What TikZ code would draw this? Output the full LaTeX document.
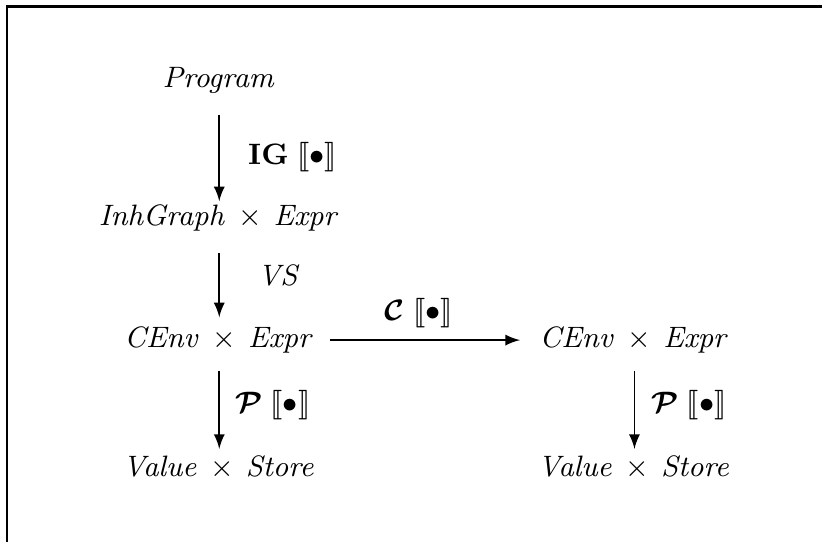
\documentclass[tikz,border=0pt]{standalone}
\usepackage{amsmath}
\usepackage{amssymb}
\usepackage{stmaryrd}
\usepackage{tikz}
\newcommand{\sem}[1]{\llbracket#1\rrbracket}
\newcommand{\cross}{\,\times\,}

\begin{document}
\begin{tikzpicture}[auto, >=latex, font=\fontsize{9}{10.8}\selectfont,
          every path/.style={line width=0.55pt}]
          \useasboundingbox (0,0) rectangle (8.81,5.81);
          \draw[line width=0.9pt] (0.075,0) -- (0.075,5.745) -- (8.81,5.745);
          \node (Prog) at (2.35, 4.95) {$\mathit{Program}$};
          \node (IGE) at (2.35, 3.47) {$\mathit{InhGraph} \cross \mathit{Expr}$};
          \node (CE) at (2.35, 2.165) {$\mathit{CEnv} \cross \mathit{Expr}$};
          \node (CE2) at (6.80, 2.165) {$\mathit{CEnv} \cross \mathit{Expr}$};
          \node (VS) at (2.35, 0.80) {$\mathit{Value} \cross \mathit{Store}$};
          \node (VS2) at (6.80, 0.80) {$\mathit{Value} \cross \mathit{Store}$};
          \draw[->, shorten <=3pt, shorten >=-2.4pt] (Prog) to
            node[pos=.59, xshift=5.2pt] {$\mathbf{IG}\;\sem{\bullet}$} (IGE);
          \draw[->, shorten <=3pt, shorten >=-0.6pt] (IGE) to
            node[pos=.45, xshift=8.2pt] {$\mathit{VS}$} (CE);
          \draw[->, shorten <=1.2pt, shorten >=2.4pt] (CE) to
            node[pos=.46] {$\boldsymbol{\mathcal{C}}\;\sem{\bullet}$} (CE2);
          \draw[->, shorten <=1.8pt, shorten >=-1.5pt] (CE) to
            node[pos=.51, xshift=1.2pt] {$\boldsymbol{\mathcal{P}}\;\sem{\bullet}$} (VS);
          \draw[->, shorten <=1.8pt, shorten >=-1.5pt] (CE2) to
            node[pos=.51, xshift=1.5pt] {$\boldsymbol{\mathcal{P}}\;\sem{\bullet}$} (VS2);
          \end{tikzpicture}
\end{document}
